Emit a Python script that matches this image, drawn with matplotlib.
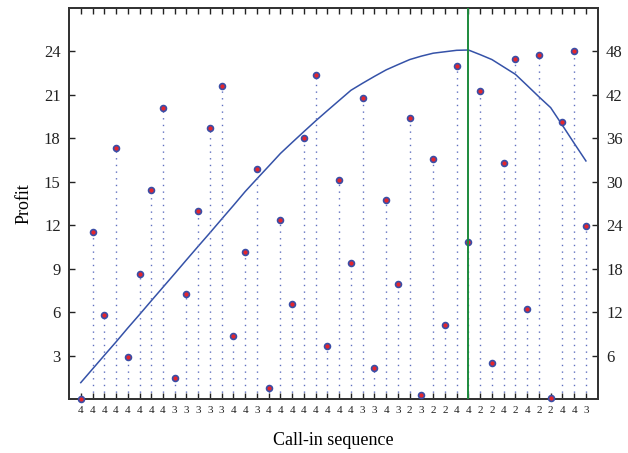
import numpy as np
import matplotlib
matplotlib.use("Agg")
import matplotlib.pyplot as plt


# call-in sequence labels shown under each position
SEQUENCE = [4, 4, 4, 4, 4, 4, 4, 4, 3, 3, 3, 3, 3, 4, 4, 3, 4, 4, 4, 4, 4, 4,
            4, 4, 3, 3, 4, 3, 2, 3, 2, 2, 4, 4, 2, 2, 4, 2, 4, 2, 2, 4, 4, 3]

# profit of each schedule (left axis)
PROFIT = [0.0, 11.55, 5.8, 17.3, 2.9, 8.65, 14.45, 20.1, 1.45, 7.25, 13.0,
          18.7, 21.6, 4.35, 10.15, 15.85, 0.75, 12.35, 6.55, 18.05, 22.4,
          3.65, 15.15, 9.4, 20.8, 2.15, 13.75, 7.95, 19.4, 0.3, 16.6, 5.1,
          23.0, 10.85, 21.25, 2.5, 16.3, 23.45, 6.2, 23.75, 0.1, 19.15,
          24.05, 11.95]

# curve read against the right axis
CURVE = [2.26, 4.14, 6.02, 7.88, 9.8, 11.66, 13.56, 15.44, 17.32, 19.22,
         21.1, 22.96, 24.86, 26.74, 28.66, 30.42, 32.16, 33.92, 35.44,
         36.94, 38.42, 39.84, 41.24, 42.64, 43.62, 44.56, 45.46, 46.18,
         46.88, 47.36, 47.76, 47.96, 48.16, 48.2, 47.56, 46.88, 45.86,
         44.84, 43.3, 41.74, 40.24, 37.8, 35.32, 32.88]

BEST = 34  # highlighted position

LEFT_TICKS = [3, 6, 9, 12, 15, 18, 21, 24]
RIGHT_TICKS = [6, 12, 18, 24, 30, 36, 42, 48]

plt.rcParams["font.family"] = ["Liberation Serif", "DejaVu Serif"]

x = np.arange(1, len(PROFIT) + 1)

fig = plt.figure(figsize=(6.28, 4.53), dpi=100)
ax = fig.add_axes([0.1099, 0.1192, 0.8418, 0.8631])
ax2 = ax.twinx()

stem_color = "#6070c0"
for xi, yi in zip(x, PROFIT):
    if yi > 0:
        ax.plot([xi, xi], [0, yi], color=stem_color, lw=1.0,
                linestyle=(0, (1, 3.8)), zorder=2)

ax.scatter(x, PROFIT, s=18, facecolor="#e3262e", edgecolor="#3b4ea6",
           linewidth=1.2, zorder=4, clip_on=False)

ax.axvline(BEST, color="#1d8a3c", lw=1.4, zorder=5)

ax2.plot(x, CURVE, color="#3552a8", lw=1.1, zorder=3)

ax.set_xlim(0, 45)
ax.set_ylim(0, 27)
ax2.set_ylim(0, 54)

ax.set_xticks(x)
ax.set_xticklabels([str(s) for s in SEQUENCE], fontsize=8)
ax.set_yticks(LEFT_TICKS)
ax.set_yticklabels([str(t) for t in LEFT_TICKS], fontsize=12)
ax2.set_yticks(RIGHT_TICKS)
ax2.set_yticklabels([str(t) for t in RIGHT_TICKS], fontsize=12)

ax.tick_params(axis="x", direction="in", length=4, width=1.0, top=True,
               pad=5, colors="#222222")
ax.tick_params(axis="y", direction="in", length=4, width=1.0, pad=6,
               colors="#222222")
ax2.tick_params(axis="y", direction="in", length=4, width=1.0, pad=6,
                colors="#222222")

for a in (ax, ax2):
    for sp in a.spines.values():
        sp.set_linewidth(1.3)
        sp.set_color("#333333")

ax.set_ylabel("Profit", fontsize=13, labelpad=8)
ax.set_xlabel("Call-in sequence", fontsize=13, labelpad=12)

ax.set_zorder(ax2.get_zorder() + 1)
ax.patch.set_visible(False)

fig.savefig("out.png", dpi=100)
